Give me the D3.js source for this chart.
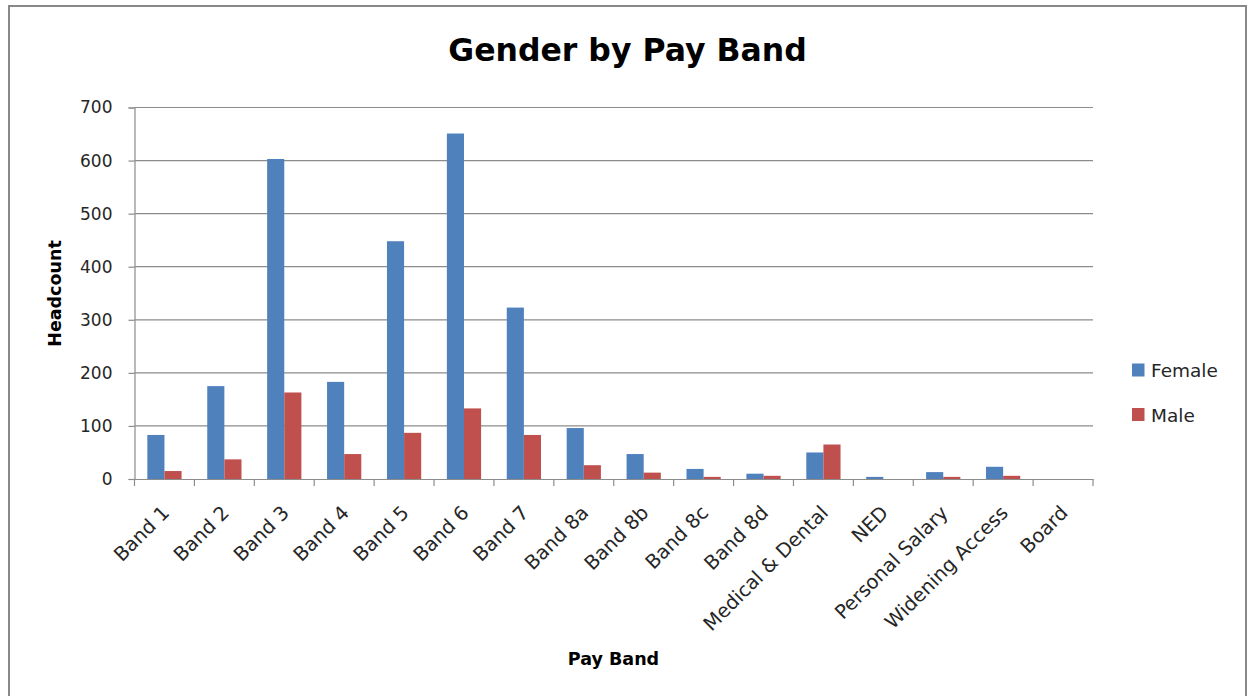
<!DOCTYPE html>
<html><head><meta charset="utf-8">
<script src="https://cdn.jsdelivr.net/npm/d3@7"></script>
<style>body{margin:0;background:#fff;} svg{display:block;font-family:"DejaVu Sans",sans-serif;}</style>
</head><body>
<svg id="c" width="1252" height="696"></svg>
<script>
const categories = ["Band 1","Band 2","Band 3","Band 4","Band 5","Band 6","Band 7","Band 8a","Band 8b","Band 8c","Band 8d","Medical & Dental","NED","Personal Salary","Widening Access","Board"];
const female = [83,175,603,183,448,651,323,96,47,19,10,50,4,13,23,0];
const male =   [15,37,163,47,87,133,83,26,12,4,6,65,0,4,6,0];
const seriesNames = ["Female","Male"];
const seriesColors = ["#4F81BD","#C0504D"];
const yTicks = [0,100,200,300,400,500,600,700];

(function(){
const FONT = "'DejaVu Sans', sans-serif";
const svg = d3.select("#c");
svg.append("rect").attr("x",9).attr("y",6).attr("width",1237).attr("height",700)
  .attr("fill","#fff").attr("stroke","#888").attr("stroke-width",2);

const pL=134.5, pR=1093, pT=107.5, pB=479;
const x = d3.scaleBand().domain(categories).range([pL,pR]).paddingInner(0).paddingOuter(0);
const y = d3.scaleLinear().domain([0,700]).range([pB,pT]);

svg.append("g").selectAll("line").data(yTicks.filter(d=>d>0)).join("line")
  .attr("x1",pL).attr("x2",pR).attr("y1",d=>y(d)).attr("y2",d=>y(d))
  .attr("stroke","#8c8c8c").attr("stroke-width",1.2);

const bw = x.bandwidth()/3.5;
[female,male].forEach((arr,si)=>{
  svg.append("g").selectAll("rect").data(arr).join("rect")
    .attr("x",(d,i)=>x(categories[i]) + bw*0.75 + si*bw)
    .attr("width",bw)
    .attr("y",d=>y(d)).attr("height",d=>y(0)-y(d))
    .attr("fill",seriesColors[si]);
});

const yAxis = d3.axisLeft(y).tickValues(yTicks).tickSize(6).tickPadding(16);
const gy = svg.append("g").attr("transform",`translate(${pL},0)`).call(yAxis);
gy.select(".domain").attr("stroke","#8c8c8c").attr("stroke-width",1.2);
gy.selectAll(".tick line").attr("stroke","#8c8c8c").attr("stroke-width",1.2);
gy.selectAll(".tick text").attr("font-size",17).attr("fill","#262626").attr("font-family",FONT);

const xAxis = d3.axisBottom(x).tickSize(0).tickFormat(d=>d);
const gx = svg.append("g").attr("transform",`translate(0,${pB})`).call(xAxis);
gx.select(".domain").attr("stroke","#8c8c8c").attr("stroke-width",1.2);
const bounds = categories.map(c=>x(c)).concat([pR]);
gx.selectAll("line.bd").data(bounds).join("line").attr("class","bd")
  .attr("x1",d=>d).attr("x2",d=>d).attr("y1",0).attr("y2",7)
  .attr("stroke","#8c8c8c").attr("stroke-width",1.2);
gx.selectAll(".tick text")
  .attr("font-size",19.5).attr("fill","#262626").attr("font-family",FONT)
  .attr("text-anchor","end").attr("dy",0).attr("y",0).attr("x",0)
  .attr("transform","translate(6,35) rotate(-45)");

svg.append("text").attr("x",627.5).attr("y",61).attr("text-anchor","middle").attr("font-family",FONT)
  .attr("font-size",31.5).attr("font-weight","bold").attr("fill","#000").text("Gender by Pay Band");
svg.append("text").attr("x",613.5).attr("y",665).attr("text-anchor","middle").attr("font-family",FONT)
  .attr("font-size",17.5).attr("font-weight","bold").attr("fill","#000").text("Pay Band");
svg.append("text").attr("transform","translate(61,293.5) rotate(-90)").attr("text-anchor","middle").attr("font-family",FONT)
  .attr("font-size",17.5).attr("font-weight","bold").attr("fill","#000").text("Headcount");

seriesNames.forEach((n,i)=>{
  const cy = 370 + i*44.5;
  svg.append("rect").attr("x",1132).attr("y",cy-6.5).attr("width",12.5).attr("height",13).attr("fill",seriesColors[i]);
  svg.append("text").attr("x",1151).attr("y",cy+7).attr("font-family",FONT).attr("font-size",18.5).attr("fill","#262626").text(n);
});
})();
</script>
</body></html>
